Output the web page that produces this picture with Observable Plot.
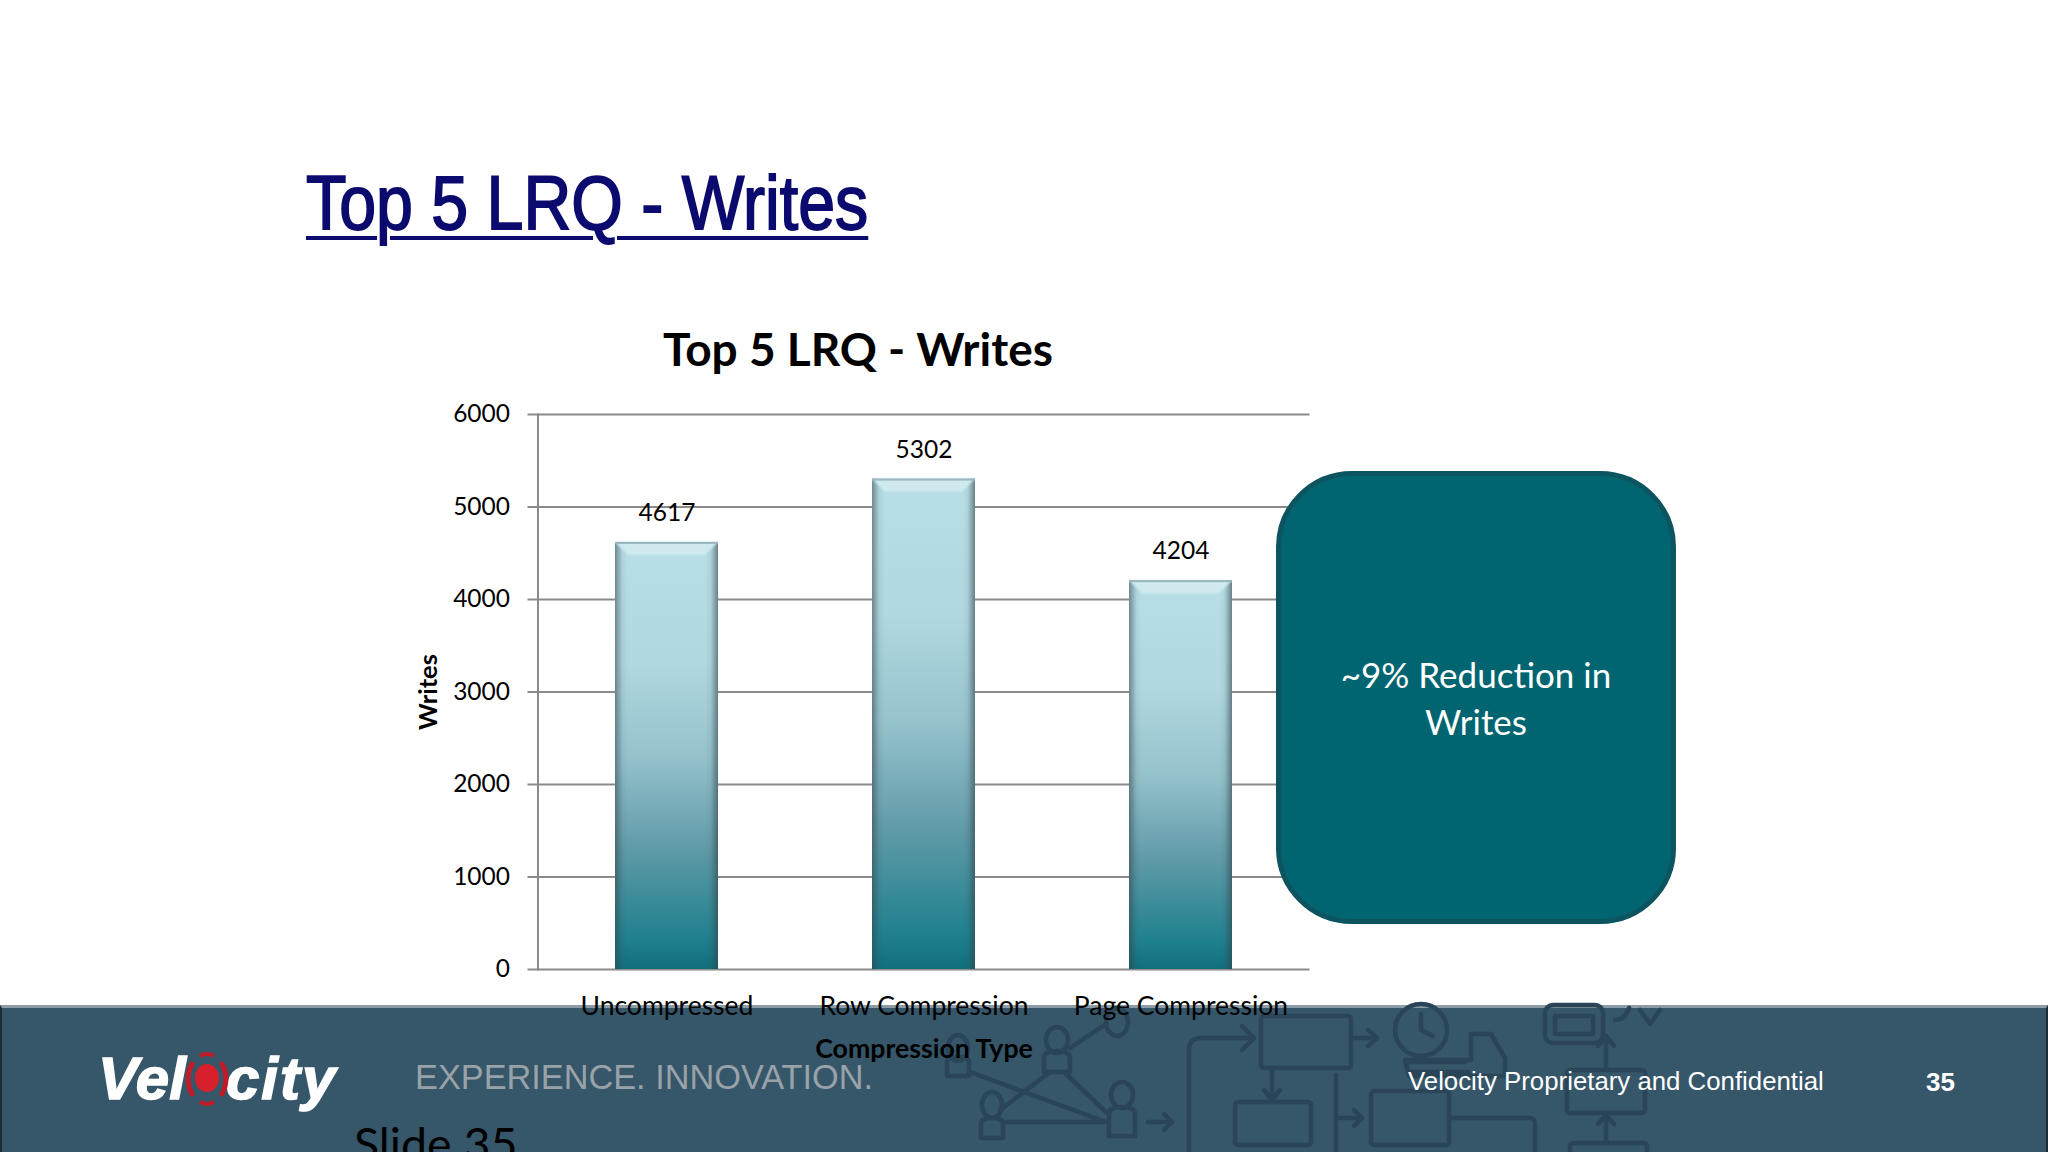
<!DOCTYPE html>
<html><head><meta charset="utf-8">
<script src="https://cdn.jsdelivr.net/npm/d3@7"></script>
<script src="https://cdn.jsdelivr.net/npm/@observablehq/plot@0.6"></script>
<style>
html,body{margin:0;padding:0;background:#fff;}
#slide{position:relative;width:2048px;height:1152px;overflow:hidden;background:#fff;}
#slide>*{position:absolute;}
.abs{white-space:nowrap;line-height:1;}
#footer{left:0;top:1005px;width:2048px;height:147px;background:#36566a;border-top:3px solid #8c9ca6;box-sizing:border-box;border-left:2px solid #1c2c36;border-right:2px solid #1c2c36;}
#deco{left:0;top:0;filter:blur(.7px);}
#chart{left:0;top:0;}
#callout{left:1276px;top:471px;width:400px;height:453px;box-sizing:border-box;background:#006570;border:5px solid #0c5560;border-radius:76px;color:#fff;font:35px Lato,sans-serif;text-align:center;line-height:47px;padding-top:175px;}
</style></head><body>
<div id="slide">
  <div id="footer"></div>
  <svg id="deco" width="2048" height="1152" fill="none" stroke="#294557" stroke-width="4.5" stroke-linejoin="round" stroke-linecap="round">
    <rect x="1261" y="1016" width="90" height="52" rx="3"/><rect x="1235" y="1102" width="76" height="43" rx="3"/>
    <rect x="1371" y="1091" width="78" height="54" rx="3"/><rect x="1567" y="1070" width="78" height="43" rx="3"/>
    <rect x="1570" y="1143" width="77" height="20" rx="3"/>
    <path d="M1189 1152V1050q0-12 12-12H1252M1242 1026l12 12-12 12M1355 1038h22M1368 1030l9 8-9 8M1272 1070v30M1264 1090l8 10 8-10M1336 1075V1152M1340 1118h22M1354 1110l8 8-8 8M1452 1118h78q5 0 5 6V1152M1606 1143v-28M1598 1124l8-9 8 9M1606 1070v-34M1598 1046l8-10 8 10"/>
    <circle cx="1421" cy="1030" r="26"/><path d="M1421 1014v16l12 6M1405 1060h66v-26h20l14 24v18h-96zM1405 1062h60M1408 1072h60"/>
    <rect x="1545" y="1005" width="58" height="38" rx="8"/><path d="M1555 1016h38v18h-38zM1615 1020q10 0 14-12M1640 1010l10 14 10-14"/>
    <ellipse cx="1117" cy="1022" rx="11" ry="14"/>
    <ellipse cx="1057" cy="1040" rx="11" ry="13"/><path d="M1044 1072v-14q0-7 13-7t13 7v14z"/>
    <ellipse cx="1122" cy="1095" rx="11" ry="13"/><path d="M1109 1136v-22q0-7 13-7t13 7v22z"/>
    <ellipse cx="958" cy="1048" rx="10" ry="13"/><path d="M947 1076v-14q0-5 11-5t11 5v14z"/>
    <ellipse cx="992" cy="1105" rx="10" ry="13"/><path d="M981 1138v-14q0-6 11-6t11 6v14z"/>
    <path d="M1070 1048l36-24M1050 1072l-50 38M1064 1072l44 42M970 1072l136 50M1005 1122h100M1148 1122h24M1164 1114l8 8-8 8"/>
  </svg>
  <div id="chart"></div>
  <div id="callout">~9% Reduction in<br>Writes</div>
  <div class="abs" id="heading" style="left:306px;top:159px;font:76px 'Liberation Sans',sans-serif;color:#0b0a6e;-webkit-text-stroke:1.8px #0b0a6e;text-decoration:underline;text-decoration-thickness:4px;text-underline-offset:7px;transform:scaleX(.872);transform-origin:left top;">Top 5 LRQ - Writes</div>
  <div class="abs" style="left:415px;top:1058px;font:34.3px 'Liberation Sans',sans-serif;color:#98a2a8;">EXPERIENCE. INNOVATION.</div>
  <div class="abs" style="left:1408px;top:1067px;font:25.8px 'Liberation Sans',sans-serif;color:#fff;">Velocity Proprietary and Confidential</div>
  <div class="abs" style="left:1926px;top:1067px;font:bold 26px 'Liberation Sans',sans-serif;color:#fff;">35</div>
  <div class="abs" style="left:354px;top:1115px;font:46.5px Lato,sans-serif;color:#000;">Slide 35</div>
  <div class="abs" style="left:98px;top:1044px;font:italic bold 60px 'Liberation Sans',sans-serif;color:#fff;-webkit-text-stroke:1.5px #fff;">Vel</div>
  <div class="abs" style="left:226px;top:1044px;font:italic bold 60px 'Liberation Sans',sans-serif;color:#fff;-webkit-text-stroke:1.5px #fff;letter-spacing:2px;">city</div>
  <svg style="left:180px;top:1050px" width="56" height="60" viewBox="0 0 56 60">
    <ellipse cx="27" cy="28" rx="12" ry="14" fill="#d8202c"/>
    <path d="M12 14Q4 28 12 44M42 14Q50 28 42 44" fill="none" stroke="#c01c28" stroke-width="5" stroke-linecap="round"/>
    <path d="M20 6Q27 2 34 6M20 52Q27 56 34 52" fill="none" stroke="#c01c28" stroke-width="4"/>
  </svg>
</div>
<script>
const categories = ["Uncompressed", "Row Compression", "Page Compression"];
const writes = [4617, 5302, 4204];
const yTicks = [0, 1000, 2000, 3000, 4000, 5000, 6000];
const rows = categories.map((category, i) => ({category, value: writes[i]}));
const FONT = "Lato, sans-serif";

const defs = () => {
  const ns = "http://www.w3.org/2000/svg";
  const d = document.createElementNS(ns, "defs");
  d.innerHTML = `
  <linearGradient id="barV" x1="0" y1="0" x2="0" y2="1">
    <stop offset="0" stop-color="#b8dfe7"/><stop offset="0.28" stop-color="#b0d8e0"/>
    <stop offset="0.5" stop-color="#95c2cc"/><stop offset="0.72" stop-color="#5f9aa7"/>
    <stop offset="0.93" stop-color="#1f808e"/><stop offset="1" stop-color="#126f7c"/>
  </linearGradient>
  <linearGradient id="barH" x1="0" y1="0" x2="1" y2="0">
    <stop offset="0" stop-color="#33424a" stop-opacity="0.55"/><stop offset="0.07" stop-color="#33424a" stop-opacity="0.08"/>
    <stop offset="0.12" stop-color="#33424a" stop-opacity="0"/><stop offset="0.88" stop-color="#33424a" stop-opacity="0"/>
    <stop offset="0.93" stop-color="#33424a" stop-opacity="0.08"/><stop offset="1" stop-color="#33424a" stop-opacity="0.6"/>
  </linearGradient>`;
  return d;
};

// Bevel on top of each bar, derived from the rect the library drew
const bevel = (index, scales, values, dims, ctx, next) => {
  const g = next(index, scales, values, dims, ctx);
  const ns = "http://www.w3.org/2000/svg";
  for (const r of Array.from(g.querySelectorAll("rect"))) {
    const x = +r.getAttribute("x"), y = +r.getAttribute("y"), w = +r.getAttribute("width");
    const p = document.createElementNS(ns, "polygon");
    p.setAttribute("points", `${x},${y} ${x+w},${y} ${x+w-13},${y+13} ${x+13},${y+13}`);
    p.setAttribute("fill", "#cfeaef");
    p.setAttribute("style", "filter:blur(.8px)");
    g.appendChild(p);
    const t = document.createElementNS(ns, "rect");
    t.setAttribute("x", x); t.setAttribute("y", y); t.setAttribute("width", w); t.setAttribute("height", 2);
    t.setAttribute("fill", "#9ab5bb");
    g.appendChild(t);
  }
  return g;
};

const chart = Plot.plot({
  width: 2048, height: 1152,
  marginLeft: 537.5, marginRight: 738.5, marginTop: 414, marginBottom: 183,
  style: {background: "transparent", fontFamily: FONT, fontSize: "24.5px", color: "#000", overflow: "visible"},
  x: {type: "band", domain: categories, paddingInner: 0.6, paddingOuter: 0.3, label: null},
  y: {domain: [0, 6000], ticks: yTicks, label: null},
  marks: [
    defs,
    Plot.ruleY(yTicks, {stroke: "#8a8a8a", strokeWidth: 2}),
    Plot.frame({anchor: "left", stroke: "#8a8a8a", strokeWidth: 2}),
    Plot.axisY({ticks: yTicks, tickSize: 10, stroke: "#8a8a8a", tickPadding: 18, fill: "#000", label: null, tickFormat: d => String(d), strokeWidth: 2}),
    Plot.axisX({tickSize: 0, tickPadding: 27, fontSize: 26.5, fill: "#000", label: null}),
    Plot.barY(rows, {x: "category", y: "value", fill: "url(#barV)", style: {filter: "drop-shadow(0 1px 2px rgba(80,90,100,.35))"}}),
    Plot.barY(rows, {x: "category", y: "value", fill: "url(#barH)", render: bevel}),
    Plot.text(rows, {x: "category", y: "value", text: d => String(d.value), dy: -29, fontSize: 24.5, fill: "#000"}),
    Plot.text(["Top 5 LRQ - Writes"], {frameAnchor: "top", dy: -81.5, dx: -66, fontSize: 46, fontWeight: 700, fill: "#000"}),
    Plot.text(["Compression Type"], {frameAnchor: "bottom", dy: 88, fontSize: 26.7, fontWeight: 700, fill: "#000"}),
    Plot.text(["Writes"], {frameAnchor: "left", textAnchor: "middle", dx: -109, rotate: -90, fontSize: 25.5, fontWeight: 700, fill: "#000"})
  ]
});
document.getElementById("chart").appendChild(chart);
</script>
</body></html>
